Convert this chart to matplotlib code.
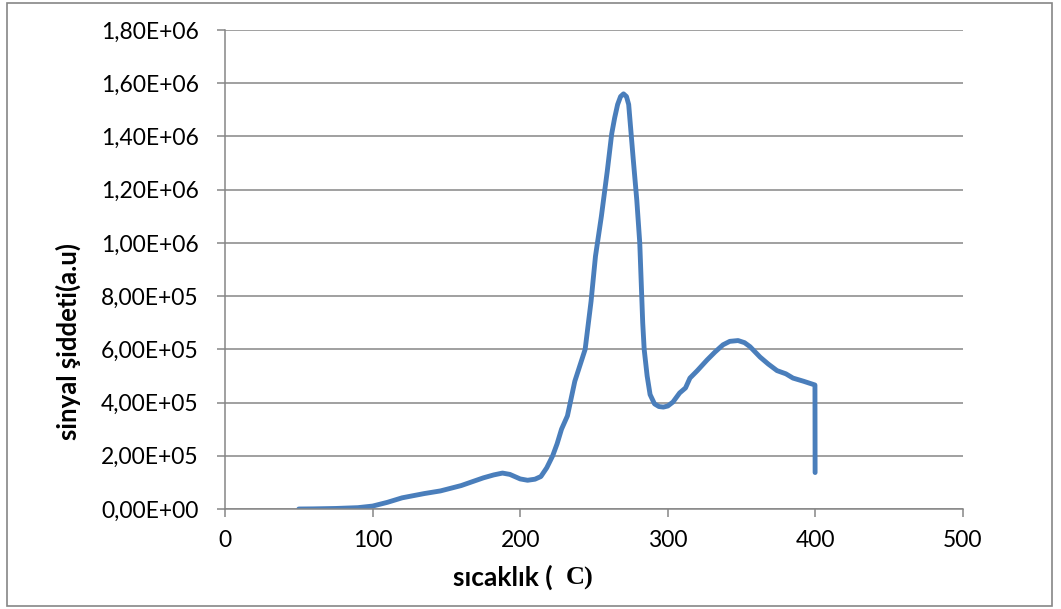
import numpy as np
import matplotlib.pyplot as plt
from matplotlib.patches import Rectangle
from matplotlib.ticker import FixedLocator

# temperature (C) and signal intensity (a.u)
temp = [50, 60, 75, 90, 100, 110, 120, 135, 146, 160, 175, 182, 188, 193, 200, 205,
        210, 214, 218, 222, 225, 228, 232, 237, 244, 248, 251, 255, 259, 262, 264,
        266, 268, 270, 272, 273.5, 275, 276.5, 279, 281, 282, 283, 284, 286, 288,
        291, 294, 297, 300, 303.5, 308, 312, 315, 320, 326.6, 332, 337.4, 342,
        347.6, 352, 355.7, 362.5, 368, 374, 380, 384.8, 392, 399.7, 399.8]
signal = [0, 500, 2000, 5000, 1.1e4, 2.5e4, 4.2e4, 5.8e4, 6.8e4, 8.8e4, 1.17e5, 1.28e5,
          1.35e5, 1.3e5, 1.13e5, 1.08e5, 1.12e5, 1.22e5, 1.55e5, 2.0e5, 2.45e5,
          3.0e5, 3.5e5, 4.8e5, 6.0e5, 7.8e5, 9.5e5, 1.10e6, 1.27e6, 1.41e6, 1.47e6,
          1.52e6, 1.55e6, 1.56e6, 1.55e6, 1.52e6, 1.42e6, 1.32e6, 1.16e6, 1.0e6,
          8.5e5, 7.0e5, 6.0e5, 5.0e5, 4.3e5, 3.95e5, 3.85e5, 3.83e5, 3.87e5, 4.02e5,
          4.36e5, 4.55e5, 4.92e5, 5.2e5, 5.6e5, 5.9e5, 6.17e5, 6.3e5, 6.33e5, 6.25e5,
          6.1e5, 5.71e5, 5.45e5, 5.2e5, 5.08e5, 4.92e5, 4.8e5, 4.66e5, 1.37e5]

x_ticks = [0, 100, 200, 300, 400, 500]
y_ticks = [0, 2e5, 4e5, 6e5, 8e5, 1e6, 1.2e6, 1.4e6, 1.6e6, 1.8e6]
y_labels = ['0,00E+00', '2,00E+05', '4,00E+05', '6,00E+05', '8,00E+05',
            '1,00E+06', '1,20E+06', '1,40E+06', '1,60E+06', '1,80E+06']

plt.rcParams['font.family'] = ['Lato', 'DejaVu Sans']
grey = '#868686'

fig = plt.figure(figsize=(10.61, 6.09), dpi=100)
ax = fig.add_axes([225/1061, 1 - 509/609, (963 - 225)/1061, (509 - 30)/609])

ax.plot(temp, signal, color='#4a7ebb', lw=3.5, solid_capstyle='round', solid_joinstyle='round')

ax.set_xlim(0, 500)
ax.set_ylim(0, 1.8e6)
ax.xaxis.set_major_locator(FixedLocator(x_ticks))
ax.set_yticks(y_ticks)
ax.set_yticklabels(y_labels)
ax.grid(axis='y', color=grey, lw=1.1)
ax.set_axisbelow(True)
for s in ['top', 'right']:
    ax.spines[s].set_visible(False)
for s in ['left', 'bottom']:
    ax.spines[s].set_color(grey)
    ax.spines[s].set_linewidth(1.1)
ax.tick_params(axis='both', color=grey, length=6, width=1.1, labelsize=16.5, labelcolor='black')
ax.tick_params(axis='y', pad=13)
ax.tick_params(axis='x', pad=9)

# y label
fig.text(68/1061, 1 - 342/609, 'sinyal şiddeti(a.u)', fontsize=18.5, fontweight='bold',
         rotation=90, ha='center', va='center')

# x label: sans text plus a serif "C)"
fig.text(553/1061, 1 - 577/609, 'sıcaklık (', fontsize=19, fontweight='bold',
         ha='right', va='center')
fig.text(566/1061, 1 - 578/609, 'C)', fontsize=19, fontweight='bold',
         family='Liberation Serif', ha='left', va='center')

# outer chart border
fig.patches.append(Rectangle((7/1061, 3/609), (1052 - 7)/1061, (606 - 3)/609,
                             transform=fig.transFigure, fill=False,
                             edgecolor=grey, lw=1.2))

plt.savefig('out.png', dpi=100)
